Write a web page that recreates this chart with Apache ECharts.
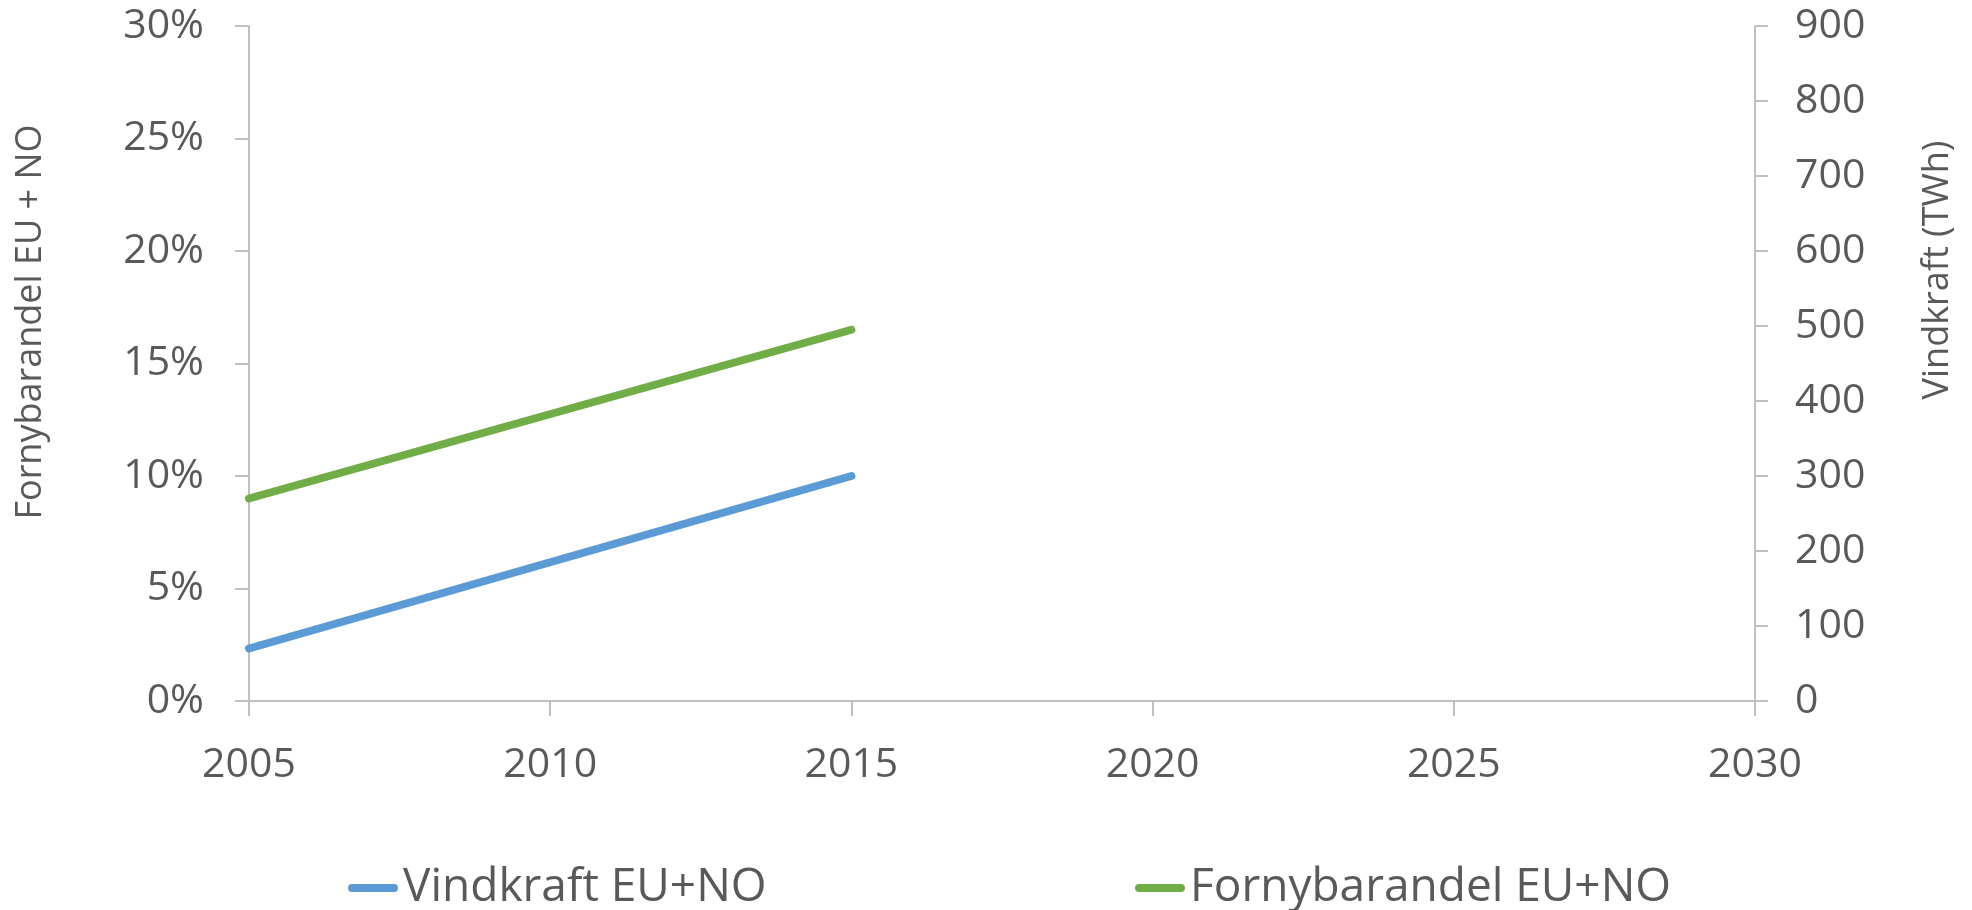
<!DOCTYPE html>
<html>
<head>
<meta charset="utf-8">
<script src="https://cdn.jsdelivr.net/npm/echarts@6/dist/echarts.min.js"></script>
<style>
html,body{margin:0;padding:0;background:#fff;}
#chart{width:1972px;height:910px;}
</style>
</head>
<body>
<div id="chart"></div>
<script>
// Data
const years = [2005, 2015];
const vindkraftTWh = [70, 300];        // right axis (TWh)
const fornybarandelPct = [9.0, 16.5];  // left axis (%)
const leftTicks = { min: 0, max: 30, interval: 5 };
const rightTicks = { min: 0, max: 900, interval: 100 };
const xTicks = { min: 2005, max: 2030, interval: 5 };
const seriesNames = ['Vindkraft EU+NO', 'Fornybarandel EU+NO'];
const leftTitle = 'Fornybarandel EU + NO';
const rightTitle = 'Vindkraft (TWh)';

const FONT = 'Open Sans';
const TXT = '#595959';
const AX = '#bfbfbf';
const BLUE = '#5b9bd5';
const GREEN = '#70ad47';

const chart = echarts.init(document.getElementById('chart'));
const legendIcon = 'path://M4,0 L46,0 A4,4 0 0 1 46,8 L4,8 A4,4 0 0 1 4,0 Z';

chart.setOption({
  animation: false,
  backgroundColor: '#fff',
  grid: { left: 249, right: 217, top: 26, bottom: 209, containLabel: false },
  xAxis: {
    type: 'value', min: xTicks.min, max: xTicks.max, interval: xTicks.interval,
    axisLine: { show: true, lineStyle: { color: AX, width: 2 } },
    axisTick: { show: true, length: 15, lineStyle: { color: AX, width: 2 } },
    splitLine: { show: false },
    axisLabel: { color: TXT, fontFamily: FONT, fontSize: 41, margin: 44, formatter: v => String(v) }
  },
  yAxis: [
    {
      type: 'value', position: 'left', min: leftTicks.min, max: leftTicks.max, interval: leftTicks.interval,
      axisLine: { show: true, lineStyle: { color: AX, width: 2 } },
      axisTick: { show: true, length: 14, lineStyle: { color: AX, width: 2 } },
      splitLine: { show: false },
      axisLabel: { color: TXT, fontFamily: FONT, fontSize: 41, margin: 45, formatter: '{value}%' }
    },
    {
      type: 'value', position: 'right', min: rightTicks.min, max: rightTicks.max, interval: rightTicks.interval,
      axisLine: { show: true, lineStyle: { color: AX, width: 2 } },
      axisTick: { show: true, length: 13, lineStyle: { color: AX, width: 2 } },
      splitLine: { show: false },
      axisLabel: { color: TXT, fontFamily: FONT, fontSize: 41, margin: 40 }
    }
  ],
  legend: [
    {
      data: [{ name: seriesNames[0], icon: legendIcon }],
      left: 343, top: 860, itemWidth: 50, itemHeight: 8, itemGap: 0,
      textStyle: { color: TXT, fontFamily: FONT, fontSize: 46 }
    },
    {
      data: [{ name: seriesNames[1], icon: legendIcon }],
      left: 1130, top: 860, itemWidth: 50, itemHeight: 8, itemGap: 0,
      textStyle: { color: TXT, fontFamily: FONT, fontSize: 46 }
    }
  ],
  graphic: [
    {
      type: 'text', x: 31, y: 322, rotation: Math.PI / 2,
      style: { text: leftTitle, fill: TXT, font: '36px "Open Sans"', align: 'center', verticalAlign: 'middle' }
    },
    {
      type: 'text', x: 1938, y: 270, rotation: Math.PI / 2,
      style: { text: rightTitle, fill: TXT, font: '36px "Open Sans"', align: 'center', verticalAlign: 'middle' }
    }
  ],
  series: [
    {
      name: seriesNames[0], type: 'line', yAxisIndex: 1, showSymbol: false, symbol: 'none',
      color: BLUE,
      lineStyle: { color: BLUE, width: 8, cap: 'round' },
      data: years.map((y, i) => [y, vindkraftTWh[i]])
    },
    {
      name: seriesNames[1], type: 'line', yAxisIndex: 0, showSymbol: false, symbol: 'none',
      color: GREEN,
      lineStyle: { color: GREEN, width: 8, cap: 'round' },
      data: years.map((y, i) => [y, fornybarandelPct[i]])
    }
  ]
});
</script>
</body>
</html>
